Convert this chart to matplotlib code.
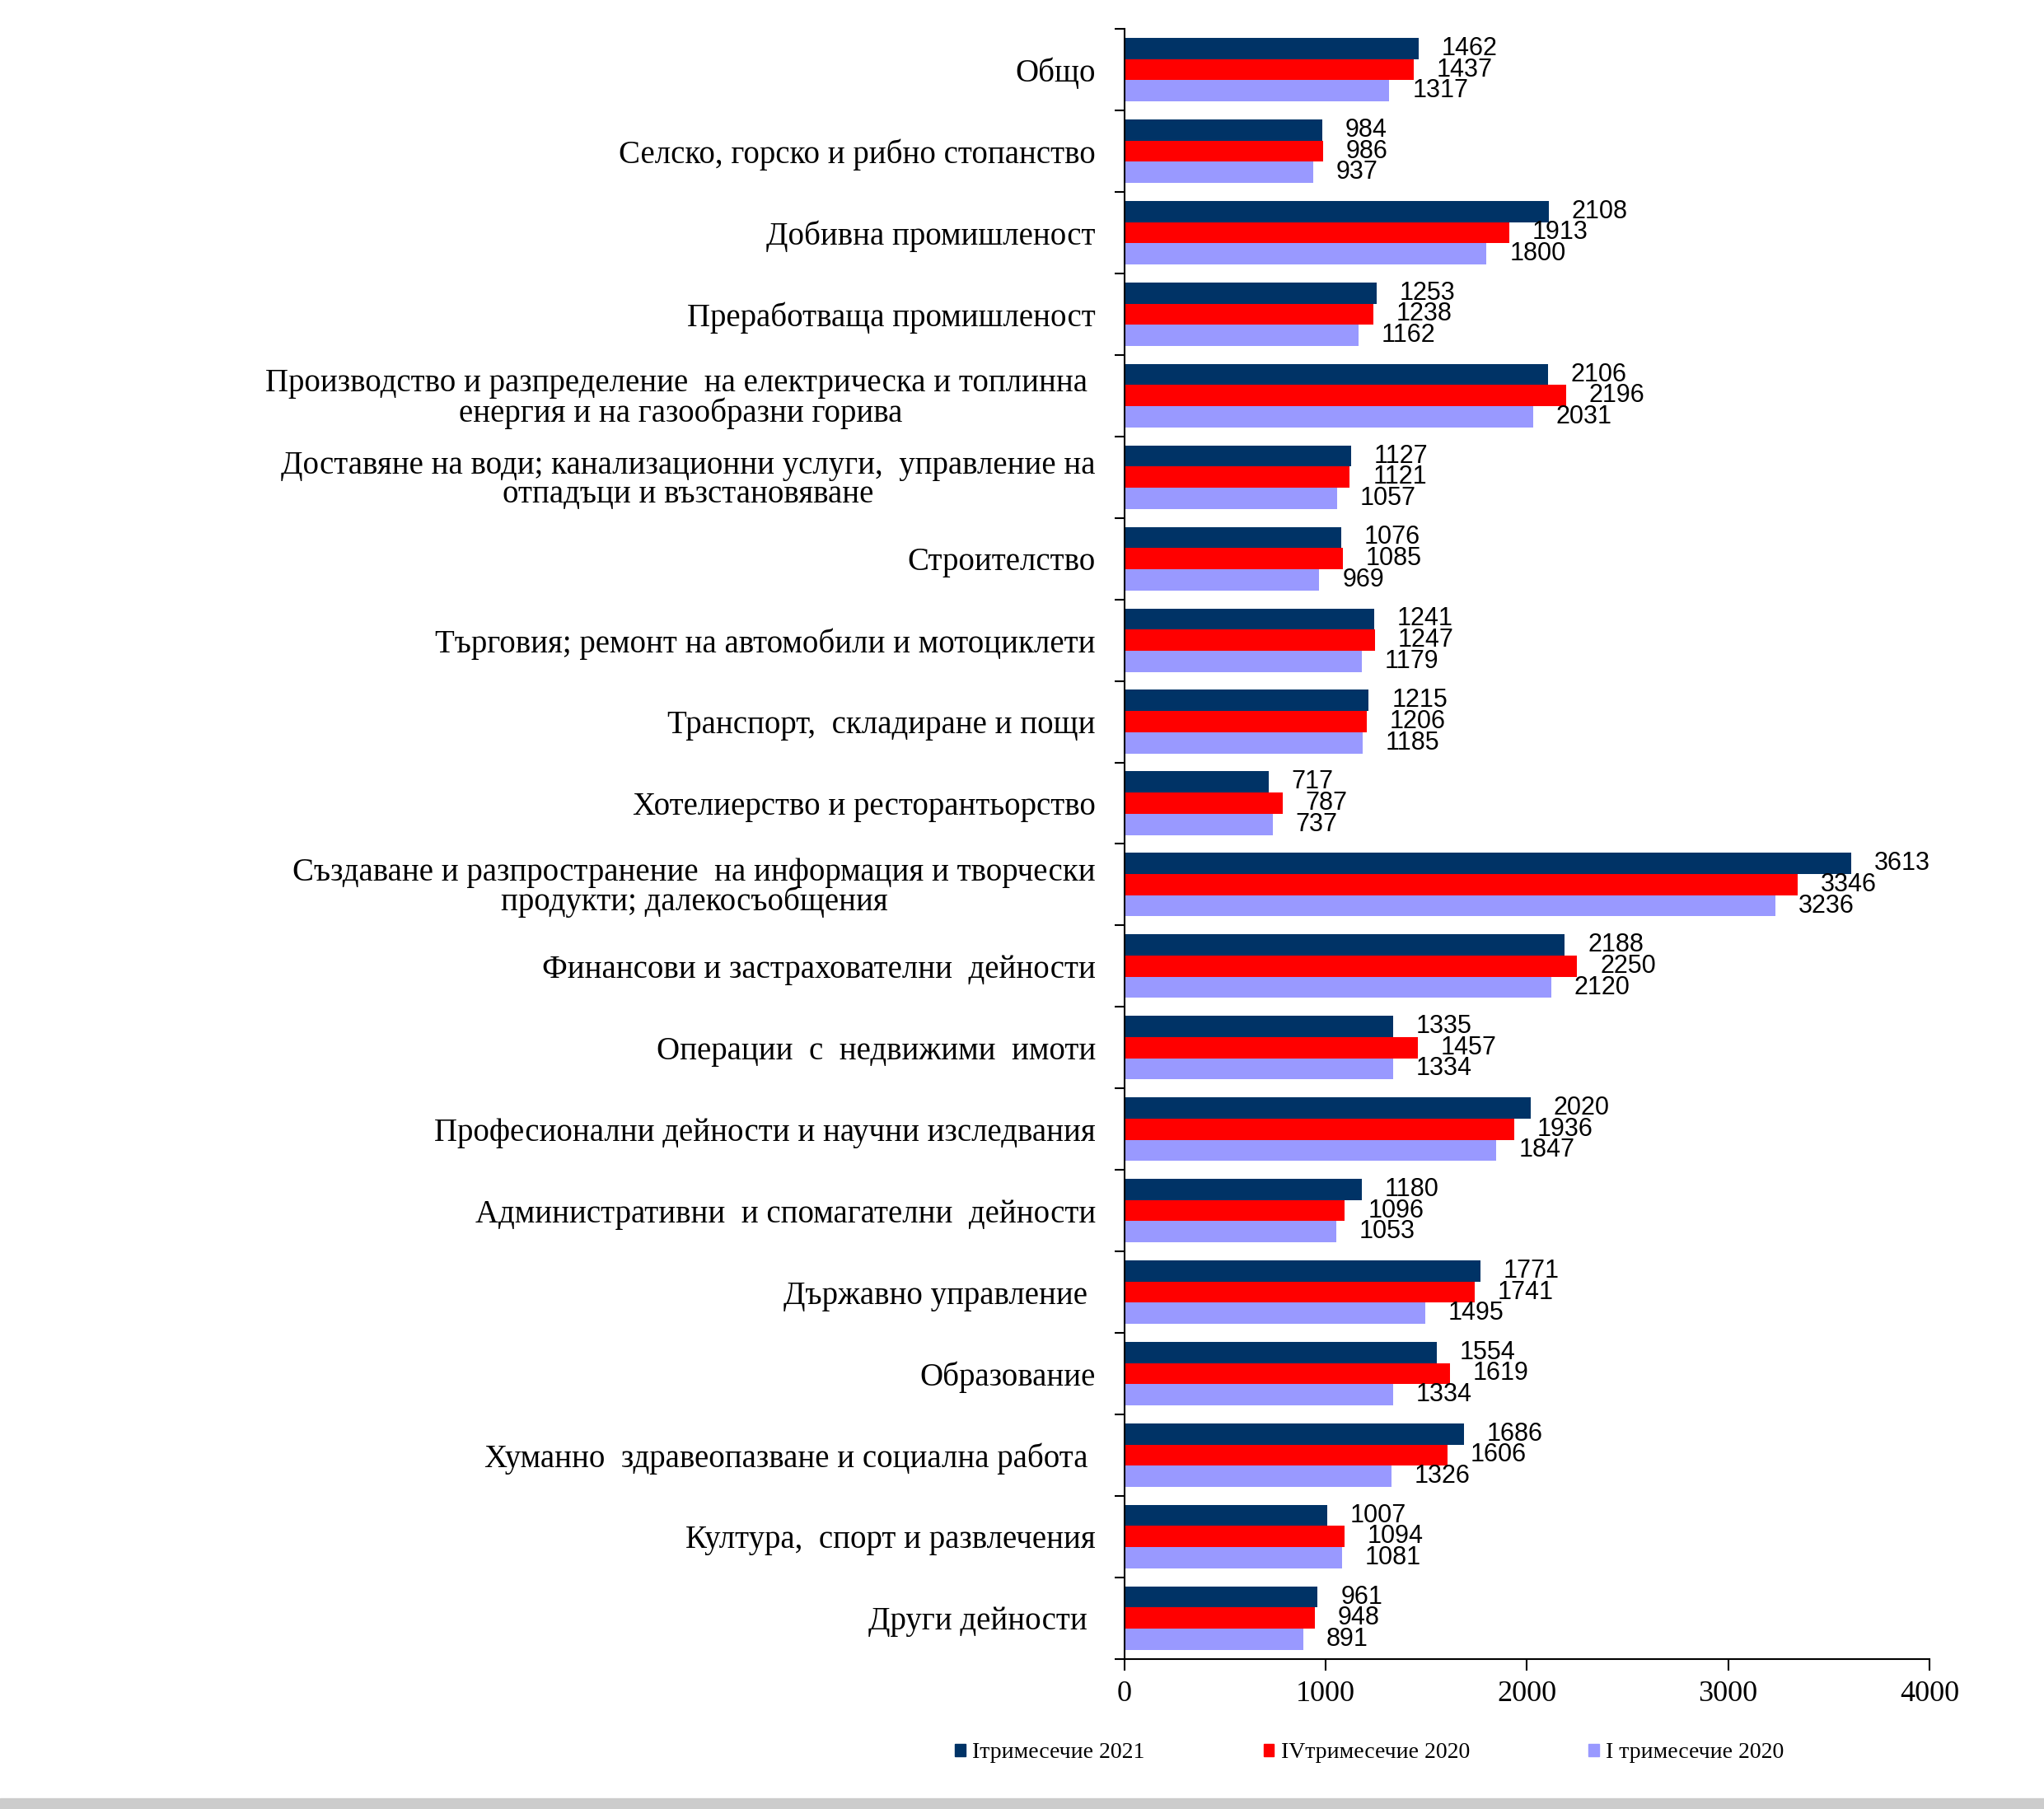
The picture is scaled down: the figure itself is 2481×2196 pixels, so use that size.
import matplotlib.pyplot as plt
import numpy as np
from matplotlib.patches import Patch, Rectangle

# --- Data ---
categories = [
    "Общо",
    "Селско, горско и рибно стопанство",
    "Добивна промишленост",
    "Преработваща промишленост",
    "Производство и разпределение  на електрическа и топлинна \nенергия и на газообразни горива",
    "Доставяне на води; канализационни услуги,  управление на\nотпадъци и възстановяване",
    "Строителство",
    "Търговия; ремонт на автомобили и мотоциклети",
    "Транспорт,  складиране и пощи",
    "Хотелиерство и ресторантьорство",
    "Създаване и разпространение  на информация и творчески\nпродукти; далекосъобщения",
    "Финансови и застрахователни  дейности",
    "Операции  с  недвижими  имоти",
    "Професионални дейности и научни изследвания",
    "Административни  и спомагателни  дейности",
    "Държавно управление ",
    "Образование",
    "Хуманно  здравеопазване и социална работа ",
    "Култура,  спорт и развлечения",
    "Други дейности ",
]
q1_2021 = [1462, 984, 2108, 1253, 2106, 1127, 1076, 1241, 1215, 717,
           3613, 2188, 1335, 2020, 1180, 1771, 1554, 1686, 1007, 961]
q4_2020 = [1437, 986, 1913, 1238, 2196, 1121, 1085, 1247, 1206, 787,
           3346, 2250, 1457, 1936, 1096, 1741, 1619, 1606, 1094, 948]
q1_2020 = [1317, 937, 1800, 1162, 2031, 1057, 969, 1179, 1185, 737,
           3236, 2120, 1334, 1847, 1053, 1495, 1334, 1326, 1081, 891]
series_names = ["Iтримесечие 2021", "IVтримесечие 2020", "I тримесечие 2020"]
colors = ["#003366", "#ff0000", "#9999ff"]

# --- Plot ---
fig = plt.figure(figsize=(24.81, 21.96), dpi=100)
ax = fig.add_axes([0.550, 0.083, 0.394, 0.901])

y = np.arange(len(categories))
h = 0.26
for i, (vals, c) in enumerate(zip([q1_2021, q4_2020, q1_2020], colors)):
    pos = y + (i - 1) * h
    ax.barh(pos, vals, height=h, color=c, edgecolor="none")
    for p, v in zip(pos, vals):
        ax.annotate(str(v), (v, p), xytext=(20, 0), textcoords="offset points",
                    ha="left", va="center", fontsize=22, family="Liberation Sans")

ax.set_xlim(0, 4000)
ax.set_ylim(len(categories) - 0.5, -0.5)

ax.set_xticks([0, 1000, 2000, 3000, 4000])
ax.tick_params(axis="x", direction="out", length=10, width=1.5, pad=9, labelsize=26)
for lab in ax.get_xticklabels():
    lab.set_family("Liberation Serif")

ax.set_yticks(np.arange(len(categories) + 1) - 0.5)
ax.set_yticklabels([])
ax.tick_params(axis="y", which="major", direction="out", length=9, width=1.5)
ax.set_yticks(y, minor=True)
ax.set_yticklabels(categories, minor=True, family="Liberation Serif", fontsize=28,
                   linespacing=0.93, multialignment="center")
ax.tick_params(axis="y", which="minor", length=0, pad=25)

for s in ["top", "right"]:
    ax.spines[s].set_visible(False)
ax.spines["left"].set_linewidth(1.5)
ax.spines["bottom"].set_linewidth(1.5)

handles = [Patch(color=c) for c in colors]
fig.legend(handles, series_names, loc="center", bbox_to_anchor=(0.67, 0.031), ncol=3,
           frameon=False, prop={"family": "Liberation Serif", "size": 20},
           handlelength=0.45, handleheight=0.45, handletextpad=0.3, columnspacing=5.2)

fig.patches.append(Rectangle((0, 0), 1, 0.006, transform=fig.transFigure,
                             color="#cccccc", zorder=0))

fig.savefig("out.png", dpi=100)
